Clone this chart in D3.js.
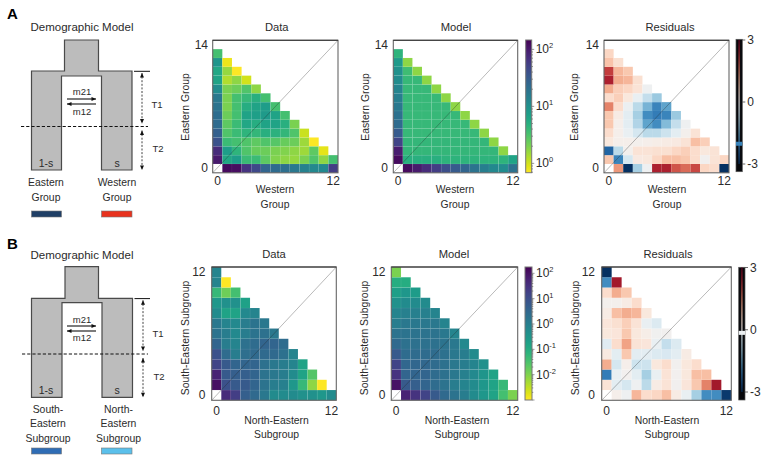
<!DOCTYPE html>
<html><head><meta charset="utf-8">
<script src="https://cdn.jsdelivr.net/npm/d3@7/dist/d3.min.js"></script>
<style>html,body{margin:0;padding:0;background:#fff}svg{display:block}text{font-family:"Liberation Sans",Arial,sans-serif;fill:#2b2b2b}</style>
</head><body><svg id="c" width="767" height="459"></svg>
<script>
// index = row number from the bottom; position in a row = column number
const dataA = [
 [null,125,120,65,45,26,23,21,17,14,12,12,55],
 [100,6,7.6,3.8,3.8,2.6,1.9,1.7,1.6,2,3,1.7,3.4],
 [75,7.6,4.5,3,2.4,2.3,2,1.9,1.7,1.5,2.6,0.85],
 [38,3.8,3.4,3,2.6,3,2.8,2.4,2.3,1.5,0.7],
 [29,3,3.8,4.5,4.2,5,4.8,4.2,3,1.05],
 [23,2.6,3.8,6,5.2,6.5,6.5,5,2],
 [22,2.3,3.4,6.5,7.3,8,6.5,3.4],
 [19,2,3.4,5.2,6.5,7.6,3.4],
 [17,2,3.4,4,5,3.4],
 [11,2,2.3,3,1.7],
 [6.5,1.3,1.7,1],
 [6,1.6,0.7],
 [9,0.8],
 [3.4]
];
const modelA = [
 [null,125,100,75,55,40,32,26,19,15,12,11,20],
 [125,5,5,5,5,4.6,4.6,4.6,4.6,4.6,4.6,4.6,6.5],
 [95,4.2,4.2,4.2,4.2,4.2,4.2,4.2,4.2,4.2,4.2,1.7],
 [50,4.2,4.2,4.2,4.2,4.2,4.2,4.2,4.2,4.2,1.7],
 [32,4,4,4,4,4,4,4,4,1.7],
 [23,4,4,4,4,4,4,4,1.7],
 [20,4,4,4,4,4,4,1.7],
 [17,4,4,4,4,4,1.7],
 [15,4,4,4,4,1.7],
 [13,4,4,4,1.7],
 [11,4,4,1.7],
 [10,3.6,1.7],
 [8,1.7],
 [4.6]
];
const residA = [
 [null,1.3,-3,-1,-0.1,2.4,2.4,1.9,1.7,2,0.6,0.5,-3],
 [0.8,-2,-0.5,0.25,0.3,0.6,0.9,0.9,0.8,0.5,-0.02,0.4,0.6],
 [-2.4,-0.8,0.05,0.4,0.4,0.45,0.45,0.6,0.7,0.5,0.3,0.4],
 [0.3,0.1,0.1,0.05,0.1,0.15,0.2,0.25,0.4,0.9,0.7],
 [0.5,0.1,-0.2,-0.5,-0.8,-0.8,-0.6,-0.3,0.05,0.4],
 [0.8,0.1,-0.3,-0.9,-1.6,-1.9,-1.3,-0.7,-0.1],
 [0.8,0.2,-0.3,-1,-1.9,-2.1,-2,-1.1],
 [1.5,0.5,-0.15,-0.8,-1.4,-2,-1.6],
 [0.5,0.7,0.3,-0.2,-0.7,-1.1],
 [1.1,0.7,0.6,0.4,-0.1],
 [2.4,1.1,1,0.45],
 [2.1,1,0.8],
 [0.85,0.45],
 [0.6]
];
const dataB = [
 [null,43,20,4.8,2.9,1.4,0.54,0.54,0.54,0.42,0.42,0.3,0.54],
 [110,8.9,6.1,6.1,3.7,1.8,1.1,0.98,0.3,0.054,0.0078,0.001],
 [55,6.1,4.8,4.8,3.7,1.8,1.4,1.1,0.54,0.16,0.026],
 [16,6.1,3.7,3.7,3.7,2.05,1.4,1.1,0.77,0.16],
 [8.9,2.6,1.1,2.3,2.9,2.9,2.9,2.05,0.77],
 [3.7,1.1,0.77,2.05,2.6,3.7,3.7,2.6],
 [1.8,1.1,0.61,1.1,1.8,2.05,1.4],
 [1.4,0.77,0.61,1.1,1.8,1.4],
 [0.54,0.16,0.16,0.61,0.77],
 [0.3,0.42,0.42,0.18],
 [0.054,0.0143,0.0375],
 [0.77,0.001],
 [0.77]
];
const modelB = [
 [null,55,30,16,6.1,2.9,1.8,1.1,0.54,0.3,0.16,0.0375,0.0112],
 [100,6.1,4.8,3.7,2.6,1.8,1.1,0.77,0.54,0.3,0.16,0.054],
 [30,3.7,3.7,3.7,2.6,2.05,1.4,0.98,0.61,0.33,0.16],
 [16,3.3,3.3,3.3,2.6,2.05,1.4,1.1,0.77,0.42],
 [6.1,2.6,2.6,2.6,2.6,2.05,1.4,1.1,0.54],
 [2.9,2.05,2.05,2.05,2.05,1.8,1.4,0.61],
 [1.8,1.8,1.8,1.8,1.8,1.4,0.77],
 [1.1,1.4,1.4,1.4,1.4,0.77],
 [0.77,0.98,0.98,0.98,0.77],
 [0.42,0.54,0.54,0.54],
 [0.2,0.3,0.23],
 [0.1,0.1],
 [0.0112]
];
const residB = [
 [null,0.1,-0.1,1,0.5,0.6,0.9,0.2,-0.2,-1,-1.9,-1.9,-2.9],
 [0.4,-0.3,-0.5,-0.1,-0.8,0.2,0.4,-0.02,0.35,0.8,1.5,2.5],
 [-2.1,-0.2,0,-0.3,-1,-0.2,0.4,0,0.3,0.9,0.9],
 [1.1,-0.5,0.1,-0.6,-0.6,0.3,0.5,-0.02,0.3,0.5],
 [0.25,-0.3,0.8,-0.3,-0.3,-0.4,-0.45,-0.3,0.2],
 [-0.35,0.5,1.2,0.4,0.35,-0.2,-0.7,-0.4],
 [0.3,0.35,0.8,0.3,0.15,-0.05,-0.02],
 [0.35,0.45,0.7,0.4,-0.2,-0.4],
 [0.2,0.9,1.1,1,0.3],
 [0.05,0.05,0.2,0.5],
 [0.5,1.1,0.8],
 [-1.9,2.5],
 [-3]
];
const logDomainA = [0.686,146], logDomainB = [0.001,178];
const logTicksA = [1,10,100], logTicksB = [0.01,0.1,1,10,100];
const residTicks = [3,0,-3];
const residMarkers = {A:-2.02, B:-0.15};

const svg = d3.select('#c');
const viridisR = t => d3.interpolateViridis(1-t);
const rdbuR = v => d3.interpolateRdBu((3-v)/6);
const FS = 11.2, LS = 10.4;

function txt(x,y,s,o={}){
  return svg.append('text').attr('x',x).attr('y',y).attr('text-anchor',o.a||'middle')
    .attr('dominant-baseline','central').attr('font-size',o.fs||FS).attr('font-weight',o.w||null)
    .attr('transform',o.rot?`rotate(-90 ${x} ${y})`:null).text(s);
}

function heat(p, rows, color, nRows){
  const g = svg.append('g');
  const x = d3.scaleBand().domain(d3.range(13)).range([p.x0,p.x1]);
  const y = d3.scaleBand().domain(d3.range(nRows)).range([p.y1,p.y0]);
  const cells = rows.flatMap((r,j)=>r.map((v,i)=>({i,j,v}))).filter(d=>d.v!==null);
  g.selectAll('rect').data(cells).join('rect')
    .attr('x',d=>x(d.i)).attr('y',d=>y(d.j)).attr('width',x.bandwidth()).attr('height',y.bandwidth())
    .attr('fill',d=>color(d.v)).attr('stroke','#fff').attr('stroke-opacity',p.grid).attr('stroke-width',0.6);
  g.append('line').attr('x1',p.x0).attr('y1',p.y1).attr('x2',p.x1).attr('y2',p.y0)
    .attr('stroke','#222').attr('stroke-opacity',0.4).attr('stroke-width',0.8);
  g.append('rect').attr('x',p.x0).attr('y',p.y0).attr('width',p.x1-p.x0).attr('height',p.y1-p.y0)
    .attr('fill','none').attr('stroke','#666').attr('stroke-width',1.1);
  g.append('line').attr('x1',p.x0).attr('y1',p.y0).attr('x2',p.x1).attr('y2',p.y0).attr('stroke','#333').attr('stroke-width',1.1);
  // tick labels through axes
  const ax = d3.axisBottom(x).tickValues([0,12]).tickSize(0).tickPadding(0);
  const ay = d3.axisLeft(y).tickValues([0,nRows-1]).tickSize(0).tickPadding(0);
  const gx = svg.append('g').attr('transform',`translate(0,${p.tx})`).call(ax);
  const gy = svg.append('g').attr('transform',`translate(${p.ty},0)`).call(ay);
  for(const a of [gx,gy]){ a.select('.domain').remove();
    a.selectAll('text').attr('font-size',12).attr('font-family','"Liberation Sans",Arial,sans-serif').attr('fill','#2b2b2b'); }
  gx.selectAll('text').attr('dy',null).attr('y',0).attr('dominant-baseline','central');
  gy.selectAll('text').attr('dy',null).attr('dominant-baseline','central');
  txt(p.tc,p.ty0,p.title);
  txt(p.yl,(p.yc),p.ylabel,{rot:true,fs:LS});
  p.xlabel.forEach((s,k)=>txt(p.xc,p.xy+k*p.xd,s,{fs:LS}));
}

function logBar(b, domain, ticks){
  const id='g'+b.x0;
  const s=d3.scaleLog().domain(domain).range([b.y1,b.y0]);
  const gr=svg.append('linearGradient').attr('id',id).attr('x1',0).attr('y1',1).attr('x2',0).attr('y2',0);
  d3.range(0,1.001,0.05).forEach(t=>gr.append('stop').attr('offset',t).attr('stop-color',viridisR(t)));
  svg.append('rect').attr('x',b.x0).attr('y',b.y0).attr('width',b.x1-b.x0).attr('height',b.y1-b.y0)
    .attr('fill',`url(#${id})`).attr('stroke','#777').attr('stroke-width',1);
  const all=[];
  for(let e=Math.floor(Math.log10(domain[0]));e<=Math.ceil(Math.log10(domain[1]));e++)
    for(let m=1;m<10;m++){const v=m*Math.pow(10,e); if(v>=domain[0]&&v<=domain[1]) all.push({v,m});}
  svg.append('g').selectAll('line').data(all).join('line')
    .attr('x1',b.x1).attr('x2',d=>b.x1+(d.m===1?2.5:1.3)).attr('y1',d=>s(d.v)).attr('y2',d=>s(d.v))
    .attr('stroke','#555').attr('stroke-width',0.6);
  ticks.forEach(v=>{
    const e=Math.round(Math.log10(v));
    const t=svg.append('text').attr('x',b.x1+4).attr('y',s(v)).attr('dominant-baseline','central').attr('font-size',12);
    t.append('tspan').text('10');
    t.append('tspan').attr('font-size',7.5).attr('dy',-4).text(String(e));
  });
}

function resBar(b, marker){
  const s=d3.scaleLinear().domain([3,-3]).range([b.t3,b.tm3]);
  svg.append('rect').attr('x',b.x0).attr('y',b.y0).attr('width',b.x1-b.x0).attr('height',b.y1-b.y0).attr('fill','#07080c').attr('stroke','#555').attr('stroke-width',0.7);
  const id='r'+b.x0;
  const gr=svg.append('linearGradient').attr('id',id).attr('gradientUnits','userSpaceOnUse').attr('x1',0).attr('x2',0).attr('y1',s(3)).attr('y2',s(-3));
  d3.range(3,-3.01,-0.5).forEach(v=>gr.append('stop').attr('offset',(3-v)/6).attr('stop-color',rdbuR(v)));
  const mid=(b.x0+b.x1)/2;
  svg.append('rect').attr('x',mid-0.9).attr('y',s(3)).attr('width',1.8).attr('height',s(-3)-s(3)).attr('fill',`url(#${id})`).attr('opacity',0.6);
  svg.append('rect').attr('x',b.x0).attr('y',s(marker)-2).attr('width',b.x1-b.x0).attr('height',4).attr('fill',rdbuR(marker));
  residTicks.forEach(v=>{
    svg.append('line').attr('x1',b.x1).attr('x2',b.x1+3).attr('y1',s(v)).attr('y2',s(v)).attr('stroke','#444').attr('stroke-width',0.8);
    txt(b.x1+5,s(v),String(v),{a:'start',fs:12});
  });
}

function schematic(S){
  const path=d3.path();
  path.moveTo(S.tl,S.top);path.lineTo(S.tr,S.top);path.lineTo(S.tr,S.sh);path.lineTo(S.R,S.sh);path.lineTo(S.R,S.bot);
  path.lineTo(S.ir,S.bot);path.lineTo(S.ir,S.it);path.lineTo(S.il,S.it);path.lineTo(S.il,S.bot);path.lineTo(S.L,S.bot);path.lineTo(S.L,S.sh);path.lineTo(S.tl,S.sh);path.closePath();
  svg.append('path').attr('d',path.toString()).attr('fill','#bcbcbc').attr('stroke','#4a4a4a').attr('stroke-width',1.2);
  svg.append('line').attr('x1',S.dx0).attr('x2',S.dx1).attr('y1',S.dash).attr('y2',S.dash).attr('stroke','#111').attr('stroke-width',1).attr('stroke-dasharray','3.2 2');
  svg.append('line').attr('x1',S.R+2).attr('x2',150).attr('y1',S.sh+.3).attr('y2',S.sh+.3).attr('stroke','#111').attr('stroke-width',1);
  const head=(x,y,dx,dy)=>{
    svg.append('path').attr('d',`M${x},${y}L${x-dy*2-dx*4.5},${y-dx*2-dy*4.5}L${x+dy*2-dx*4.5},${y+dx*2-dy*4.5}Z`).attr('fill','#111');
  };
  [[S.sh+2,S.dash-3],[S.dash+4,S.bot]].forEach(([a,b])=>{
    svg.append('line').attr('x1',S.ax).attr('x2',S.ax).attr('y1',a).attr('y2',b).attr('stroke','#111').attr('stroke-width',0.8).attr('stroke-dasharray','2 1.6');
    head(S.ax,a,0,-1);head(S.ax,b,0,1);
  });
  txt(S.ax+15,S.t1y,'T1',{fs:9.5});txt(S.ax+16,S.t2y,'T2',{fs:9.5});
  [[S.m1,1],[S.m2,-1]].forEach(([y,d])=>{
    svg.append('line').attr('x1',67).attr('x2',96).attr('y1',y).attr('y2',y).attr('stroke','#111').attr('stroke-width',1.1);
    head(d>0?96:67,y,d,0);
  });
  txt(82,S.m21y,'m21',{fs:9.5});txt(82,S.m12y,'m12',{fs:9.5});
  txt(46,S.lab,'1-s',{fs:10.5});txt(117,S.lab,'s',{fs:10.5});
  txt(82,S.head,'Demographic Model',{fs:11.5});
  txt(S.letterX,S.letterY,S.letter,{fs:15,w:'bold',a:'start'}).style('fill','#000');
  S.left.forEach((s,i)=>txt(S.lx,S.ly+i*S.ld,s,{fs:LS}));
  S.right.forEach((s,i)=>txt(S.rx,S.ly+i*S.ld,s,{fs:LS}));
  svg.append('rect').attr('x',31.5).attr('y',S.sw).attr('width',30).attr('height',6).attr('fill',S.c1).attr('stroke','#777').attr('stroke-width',.6);
  svg.append('rect').attr('x',101.5).attr('y',S.sw).attr('width',30.5).attr('height',6).attr('fill',S.c2).attr('stroke','#777').attr('stroke-width',.6);
}

const colA=d3.scaleSequentialLog(viridisR).domain(logDomainA);
const colB=d3.scaleSequentialLog(viridisR).domain(logDomainB);

const rowA={y0:40.3,y1:172.8,tx:181,ty0:27,yc:107,xy:189,xd:15,xlabel:['Western','Group'],ylabel:'Eastern Group'};
const rowB={y0:267,y1:400.3,tx:410.5,ty0:254,yc:338,xy:420,xd:14.5,xlabel:['North-Eastern','Subgroup'],ylabel:'South-Eastern Subgroup'};

heat({...rowA,x0:212.7,x1:338,ty:208,tc:276.7,title:'Data',yl:185,xc:275,grid:.07},dataA,colA,15);
heat({...rowA,x0:393.3,x1:517.7,ty:388,tc:456,title:'Model',yl:365.5,xc:455,grid:.07},modelA,colA,15);
heat({...rowA,x0:604,x1:729,ty:599,tc:670,title:'Residuals',yl:574,xc:667,grid:0},residA,rdbuR,15);
heat({...rowB,x0:211.7,x1:336.3,ty:205.5,tc:274,title:'Data',yl:185,xc:276.5,grid:.07},dataB,colB,13);
heat({...rowB,x0:391.3,x1:517.7,ty:385.5,tc:454,title:'Model',yl:364,xc:457,grid:.07},modelB,colB,13);
heat({...rowB,x0:601.7,x1:731.3,ty:595,tc:668,title:'Residuals',yl:575,xc:667,grid:0},residB,rdbuR,13);

logBar({x0:525.7,x1:531.7,y0:40,y1:172.7},logDomainA,logTicksA);
logBar({x0:525,x1:532,y0:267,y1:400},logDomainB,logTicksB);
resBar({x0:736,x1:742.3,y0:39.3,y1:171.7,t3:40,tm3:164},residMarkers.A);
resBar({x0:738.7,x1:745,y0:267.3,y1:400,t3:267.5,tm3:392},residMarkers.B);

schematic({tl:64.5,tr:98.5,top:40,sh:71,L:31.5,R:132,bot:170,il:61.5,ir:101.5,it:76,dash:126.5,dx0:21,dx1:148,ax:142,t1y:104,t2y:148,
  m1:99,m2:104,m21y:91,m12y:111,lab:163,head:27,letter:'A',letterX:7,letterY:13,left:['Eastern','Group'],right:['Western','Group'],lx:46,rx:117,ly:182.5,ld:14.5,sw:211,c1:'#1f3f66',c2:'#e8321e'});
schematic({tl:65,tr:98.5,top:266.7,sh:298.3,L:31.5,R:132.5,bot:397.3,il:62,ir:102,it:302.7,dash:354,dx0:22,dx1:148,ax:143,t1y:333,t2y:376,
  m1:326,m2:331,m21y:319,m12y:337,lab:390,head:255,letter:'B',letterX:7,letterY:243,left:['South-','Eastern','Subgroup'],right:['North-','Eastern','Subgroup'],lx:48,rx:118.5,ly:409,ld:14.5,sw:448,c1:'#2f6db5',c2:'#5bc0eb'});
</script></body></html>
